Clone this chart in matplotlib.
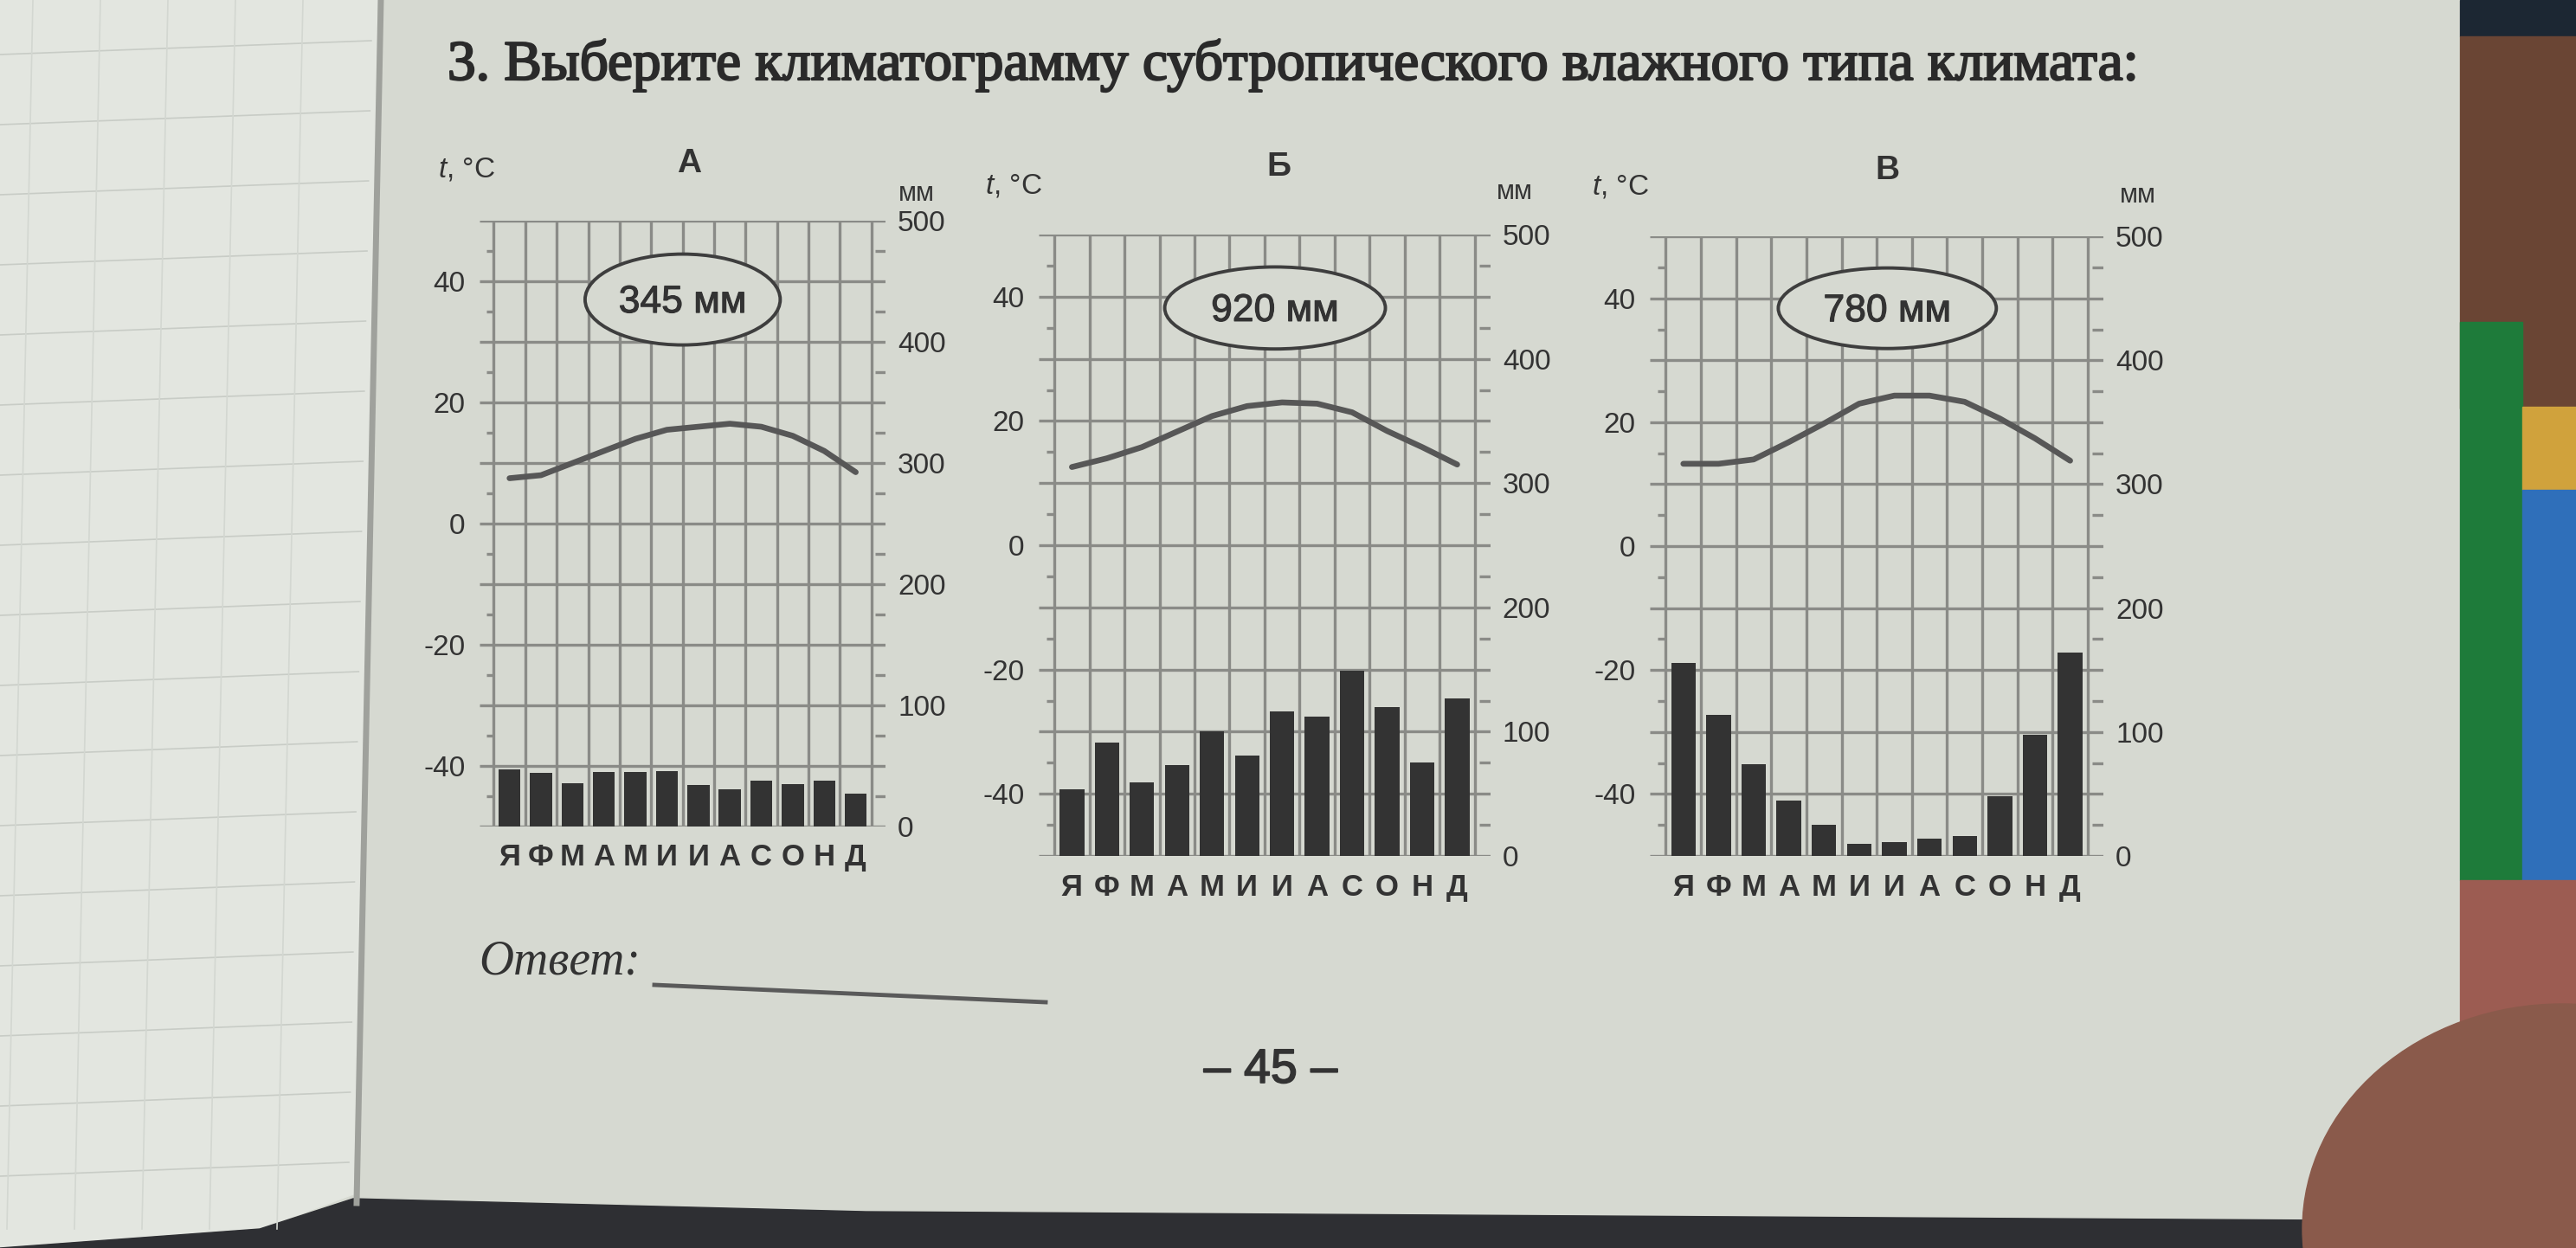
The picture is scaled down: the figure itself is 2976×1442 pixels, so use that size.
import matplotlib
matplotlib.use("Agg")
import matplotlib.pyplot as plt
import matplotlib.patheffects as pe
from matplotlib.patches import Ellipse, Rectangle, Polygon

plt.rcParams['font.family'] = ['Liberation Sans', 'DejaVu Sans']
plt.rcParams['mathtext.fontset'] = 'custom'
plt.rcParams['mathtext.it'] = 'Liberation Sans:italic'
plt.rcParams['mathtext.rm'] = 'Liberation Sans'

W, H = 2976, 1442
PAGE = '#d6d9d1'
INK = '#333333'
GRID = '#8a8b87'

# data
months = ["Я", "Ф", "М", "А", "М", "И", "И", "А", "С", "О", "Н", "Д"]
letters = ["А", "Б", "В"]
totals = ["345 мм", "920 мм", "780 мм"]

temp_a = [7.5, 8, 10, 12, 14, 15.5, 16, 16.5, 16, 14.5, 12, 8.5]
prec_a = [47, 44, 36, 45, 45, 46, 34, 31, 38, 35, 38, 27]

temp_b = [12.6, 14, 15.8, 18.3, 20.8, 22.4, 23, 22.8, 21.4, 18.4, 15.8, 13]
prec_b = [54, 91, 59, 73, 100, 81, 116, 112, 149, 120, 75, 127]

temp_v = [13.3, 13.3, 14, 16.8, 19.8, 23, 24.3, 24.3, 23.3, 20.6, 17.4, 13.8]
prec_v = [156, 114, 74, 45, 25, 10, 11, 14, 16, 48, 98, 164]

t_ticks = [-40, -20, 0, 20, 40]
t_labels = ["-40", "-20", "0", "20", "40"]
p_ticks = [0, 100, 200, 300, 400, 500]

title = "3. Выберите климатограмму субтропического влажного типа климата:"

fig = plt.figure(figsize=(W / 100, H / 100), dpi=100)
fig.patch.set_facecolor(PAGE)


def px(x, y):
    return x / W, 1 - y / H


# photo surroundings (left page, gutter, books, finger)
bg = fig.add_axes([0, 0, 1, 1], zorder=-10)
bg.set_xlim(0, W)
bg.set_ylim(H, 0)
bg.axis('off')
bg.add_patch(Polygon([(0, 0), (436, 0), (425, 700), (408, 1380), (300, 1420), (0, 1442)],
                     closed=True, color='#e3e6e0'))
for gy in range(55, 1420, 81):
    bg.plot([0, 430 - gy * 0.02], [gy + 8, gy - 8], color='#c8ccc6', lw=1.2)
for gx in range(38, 420, 78):
    bg.plot([gx, gx - 30], [0, 1420], color='#d3d7d1', lw=1.2)
bg.plot([440, 412], [0, 1390], color='#9fa19c', lw=5)
bg.add_patch(Polygon([(0, 1442), (300, 1420), (408, 1385), (1000, 1400), (2700, 1410), (2700, 1442)],
                     closed=True, color='#2e2f33'))
bg.add_patch(Rectangle((2842, 0), 134, 42, color='#1c2733'))
bg.add_patch(Rectangle((2842, 42), 134, 430, color='#6a4534'))
bg.add_patch(Rectangle((2842, 372), 72, 645, color='#1e7b3a'))
bg.add_patch(Rectangle((2914, 470), 62, 96, color='#d0a23c'))
bg.add_patch(Rectangle((2914, 566), 62, 451, color='#2f6fba'))
bg.add_patch(Rectangle((2842, 1017), 134, 425, color='#9c5c52'))
bg.add_patch(Ellipse((2960, 1420), 600, 520, color='#8a5a4b'))

bold = [pe.withStroke(linewidth=1.2, foreground=INK)]


def draw_chart(rect, temps, precs, total, ell):
    ax = fig.add_axes(rect)
    ax.set_facecolor('none')
    ax.set_xlim(-0.45, 12.45)
    ax.set_ylim(-50, 50)
    for s in ax.spines.values():
        s.set_visible(False)
    ax.hlines(range(-50, 51, 10), -0.45, 12.45, color=GRID, lw=2.4, zorder=1)
    ax.vlines(range(13), -50, 50, color=GRID, lw=2.4, zorder=1)
    ax.hlines(range(-45, 50, 10), -0.22, 0, color=GRID, lw=2.4, zorder=1)

    ax.set_yticks(t_ticks)
    ax.set_yticklabels(t_labels)
    ax.tick_params(axis='y', length=0, pad=12, labelsize=24, labelcolor=INK)
    ax.set_xticks([i + 0.5 for i in range(12)])
    ax.set_xticklabels(months, fontweight='bold')
    ax.tick_params(axis='x', length=0, pad=14, labelsize=25, labelcolor=INK)

    ax.plot([i + 0.5 for i in range(12)], temps, color='#575757', lw=4.8,
            solid_capstyle='round', solid_joinstyle='round', zorder=4)

    cx, cy, ew, eh = ell
    ax.add_patch(Ellipse((cx, cy), ew, eh, facecolor=PAGE, edgecolor='#3e3e3e',
                         lw=2.8, zorder=3))
    ax.text(cx, cy - 0.5, total, ha='center', va='center', fontsize=32, color=INK,
            zorder=5, path_effects=[pe.withStroke(linewidth=0.8, foreground=INK)])

    ax2 = ax.twinx()
    ax2.set_ylim(0, 500)
    for s in ax2.spines.values():
        s.set_visible(False)
    ax2.bar([i + 0.5 for i in range(12)], precs, width=0.7, color='#333333', zorder=2)
    ax2.hlines(range(25, 500, 50), 12.12, 12.45, color=GRID, lw=2.4)
    ax2.set_yticks(p_ticks)
    ax2.tick_params(axis='y', length=0, pad=10, labelsize=24, labelcolor=INK)
    return ax


draw_chart([0.1862, 0.3377, 0.1576, 0.4854], temp_a, prec_a, totals[0], (6.0, 37, 6.2, 15))
draw_chart([0.4032, 0.3141, 0.1754, 0.4979], temp_b, prec_b, totals[1], (6.3, 38.2, 6.3, 13.2))
draw_chart([0.6405, 0.3141, 0.1761, 0.4965], temp_v, prec_v, totals[2], (6.3, 38.4, 6.2, 13))

# captions above the charts
letter_pos = [(796, 189), (1477, 193), (2180, 197)]
t_pos = [(539, 196), (1171, 215), (1872, 216)]
mm_pos = [(1059, 224), (1750, 222), (2470, 226)]
for i in range(3):
    fig.text(*px(*letter_pos[i]), letters[i], ha='center', va='center', fontsize=28,
             fontweight='bold', color=INK)
    fig.text(*px(*t_pos[i]), r"$\mathit{t}$, °C", ha='center', va='center', fontsize=24, color=INK)
    fig.text(*px(*mm_pos[i]), "мм", ha='center', va='center', fontsize=22, color=INK)

fig.text(*px(517, 92), title, ha='left', va='baseline', fontsize=47,
         family=['Liberation Serif', 'DejaVu Serif'], color='#2a2a2a',
         path_effects=[pe.withStroke(linewidth=1.6, foreground='#2a2a2a')])
fig.text(*px(553, 1125), "Ответ:", ha='left', va='baseline', fontsize=40, style='italic',
         family=['Liberation Serif', 'DejaVu Serif'], color='#333333')
bg.plot([756, 1208], [1138, 1158], color='#5a5a5a', lw=3.5)
fig.text(*px(1468, 1237), "– 45 –", ha='center', va='center', fontsize=40, color='#333333',
         path_effects=bold)

fig.savefig("out.png", dpi=100, facecolor=fig.get_facecolor())
